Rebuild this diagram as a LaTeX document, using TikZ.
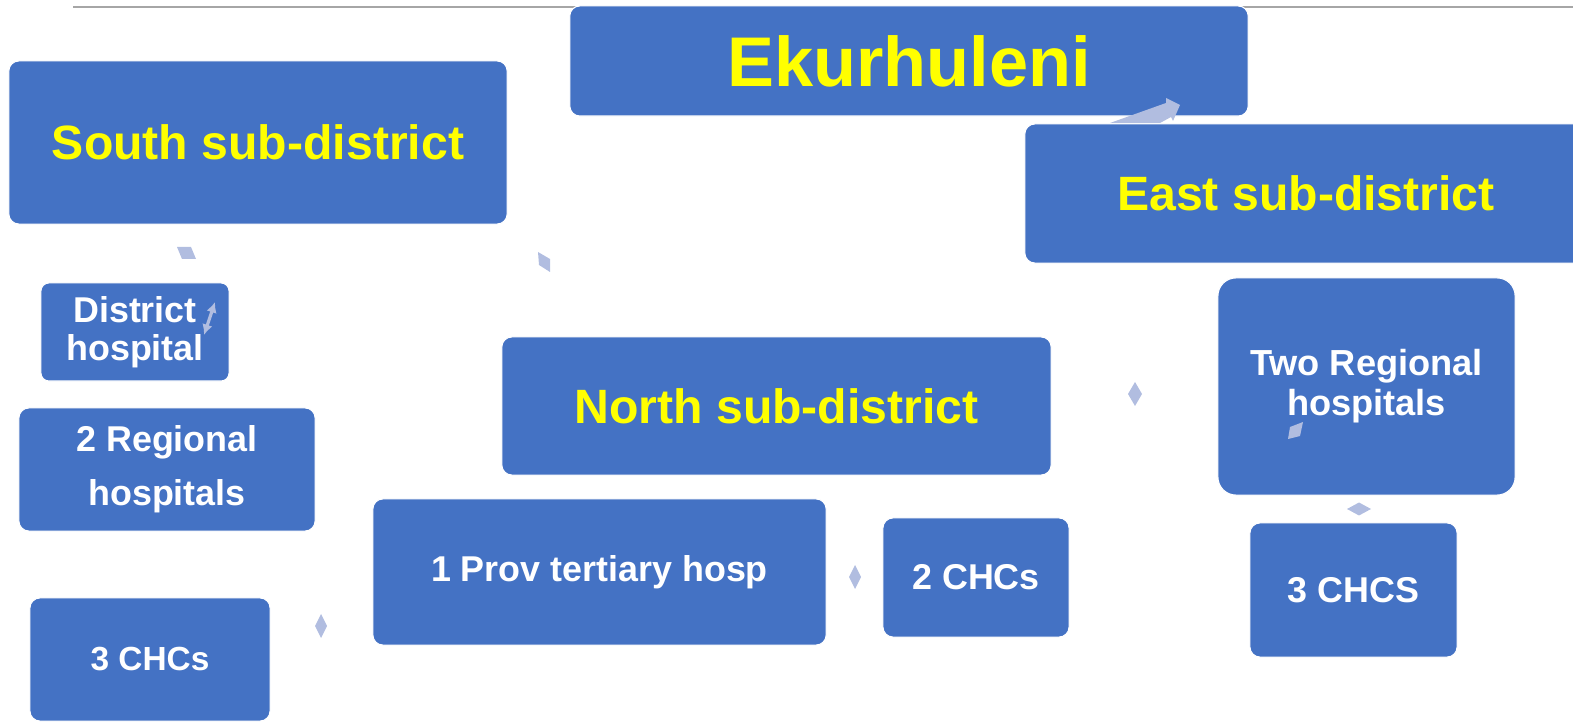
\documentclass[tikz,border=0pt]{standalone}
\usepackage{fontspec}
\setmainfont{Liberation Sans}
\usepackage{tikz}
\usetikzlibrary{arrows.meta}
\usepackage{xcolor}
\definecolor{BoxBlue}{HTML}{4472C4}
\definecolor{TitleYellow}{HTML}{FFFF00}
\definecolor{LinkLilac}{HTML}{B1BDE0}
\definecolor{RuleGrey}{HTML}{A6A6A6}

\begin{document}
\begin{tikzpicture}[x=0.01cm,y=-0.01cm,
    box/.style={fill=BoxBlue,draw=white,line width=0.3pt,rounded corners=0.1cm,inner sep=0pt,align=center},
    head/.style={box,text=TitleYellow,font=\bfseries\fontsize{13.7}{16}\selectfont},
    unit/.style={box,text=white,font=\bfseries\fontsize{10.2}{10.8}\selectfont}]
    \clip (0,0) rectangle (1573,722);
    \draw[RuleGrey,line width=0.5pt] (73,7) -- (1573,7);
    \node[head,minimum width=6.78cm,minimum height=1.10cm,font=\bfseries\fontsize{20}{24}\selectfont] (ekurhuleni) at (909,61) {Ekurhuleni};
    \fill[LinkLilac] (1110,123) -- (1166,103) -- (1166,98) -- (1180,105) -- (1173,121) -- (1171,117) -- (1160,123) -- cycle;
    \node[head,minimum width=5.62cm,minimum height=1.39cm] (east) at (1306,193.5) {East sub-district};
    \node[head,minimum width=4.98cm,minimum height=1.63cm] (south) at (258,142.5) {South sub-district};
    \node[head,minimum width=5.49cm,minimum height=1.38cm] (north) at (776.5,406) {North sub-district};
    % south side
    \node[unit,minimum width=1.88cm,minimum height=0.98cm,rounded corners=0.08cm] (district) at (135,332) {District\\hospital};
    \node[unit,minimum width=2.96cm,minimum height=1.23cm,font=\bfseries\fontsize{10.2}{15.3}\selectfont] (regional) at (167,469.5) {2 Regional\\hospitals};
    \node[unit,minimum width=2.40cm,minimum height=1.23cm,font=\bfseries\fontsize{9.5}{11}\selectfont] (chcsouth) at (150,659.5) {3 CHCs};
    % north side
    \node[unit,minimum width=4.53cm,minimum height=1.46cm] (tertiary) at (599.5,572) {1 Prov tertiary hosp};
    \node[unit,minimum width=1.86cm,minimum height=1.19cm] (chcnorth) at (976,577.5) {2 CHCs};
    % east side
    \node[unit,minimum width=2.97cm,minimum height=2.17cm,rounded corners=0.18cm,font=\bfseries\fontsize{10.3}{11.3}\selectfont] (tworegional) at (1366.5,386.5) {Two Regional\\hospitals};
    \node[unit,minimum width=2.07cm,minimum height=1.34cm] (chceast) at (1353.5,590) {3 CHCS};
    % leftover link pieces
    \fill[LinkLilac] (177,247) -- (191,247) -- (196,259) -- (182,259) -- cycle;
    \fill[LinkLilac] (538,252) -- (550,259) -- (550,272) -- (539,265) -- cycle;
    \fill[LinkLilac] (1290,427) -- (1303,422) -- (1300,436) -- (1288,439) -- cycle;
    \foreach \cx/\cy/\w/\h in {1135/394/7/12,855/577/6/12,321/626/6/12,1359/509/12/6.5} {
     \fill[LinkLilac] (\cx-\w,\cy) -- (\cx,\cy-\h) -- (\cx+\w,\cy) -- (\cx,\cy+\h) -- cycle;
    }
    \coordinate (dh-low) at (204,335);
    \coordinate (dh-up) at (215,302);
    \draw[LinkLilac,line width=0.9pt,{Latex[length=3pt,width=3pt]}-{Latex[length=3pt,width=3pt]}] (dh-low) -- (dh-up);
\end{tikzpicture}
\end{document}
